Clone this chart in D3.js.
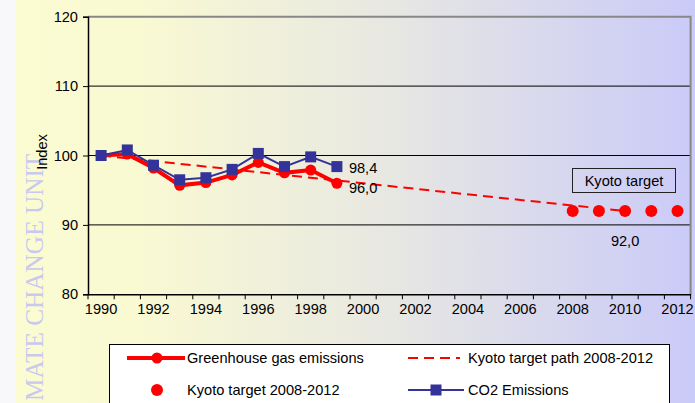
<!DOCTYPE html>
<html><head><meta charset="utf-8">
<script src="https://cdn.jsdelivr.net/npm/d3@7"></script>
<style>body{margin:0;padding:0;overflow:hidden}svg{display:block;font-family:Arial,"Liberation Sans",sans-serif}</style>
</head><body>
<script>
const years = d3.range(1990, 2013).map(String);
const ghgYears = ["1990","1991","1992","1993","1994","1995","1996","1997","1998","1999"];
const ghgValues = [100, 100.2, 98.2, 95.7, 96.1, 97.2, 99.0, 97.5, 97.9, 96.0];
const co2Values = [100, 100.8, 98.6, 96.5, 96.8, 98.0, 100.3, 98.4, 99.8, 98.4];
const pathYears = ["1990", "2010"];
const pathValues = [100, 92];
const targetYears = ["2008","2009","2010","2011","2012"];
const targetValues = [92, 92, 92, 92, 92];
const yTicks = [80, 90, 100, 110, 120];
const xLabels = ["1990","1992","1994","1996","1998","2000","2002","2004","2006","2008","2010","2012"];
const legendLabels = ["Greenhouse gas emissions","Kyoto target path 2008-2012","Kyoto target 2008-2012","CO2 Emissions"];

const W = 695, H = 403, FS = 14.6;
const svg = d3.select("body").append("svg").attr("width", W).attr("height", H);
const defs = svg.append("defs");
const g1 = defs.append("linearGradient").attr("id","bg").attr("x1","0").attr("x2","1").attr("y1","0").attr("y2","0");
g1.append("stop").attr("offset","0").attr("stop-color","#fcfcd2");
g1.append("stop").attr("offset","0.2").attr("stop-color","#f9f9d2");
g1.append("stop").attr("offset","0.55").attr("stop-color","#e8e8e2");
g1.append("stop").attr("offset","1").attr("stop-color","#cacaf8");
svg.append("rect").attr("width",W).attr("height",H).attr("fill","url(#bg)");
svg.append("rect").attr("width",15).attr("height",H).attr("fill","#f8f8fb");

// watermark
svg.append("text").attr("transform","translate(42.5,401) rotate(-90)")
  .attr("font-family","'Liberation Serif','DejaVu Serif',serif").attr("font-size",25.3)
  .attr("fill","#c9c9f0").attr("text-anchor","start").text("MATE CHANGE UNIT");

const x = d3.scaleBand().domain(years).range([88, 690.6]).padding(0);
const y = d3.scaleLinear().domain([80, 120]).range([294.3, 16.7]);
const cx = d => x(d) + x.bandwidth()/2;

// gridlines
svg.append("g").selectAll("line").data(yTicks.filter(v => v > 80 && v < 120)).join("line")
  .attr("x1", 88).attr("x2", 690.6).attr("y1", d => y(d)).attr("y2", d => y(d))
  .attr("stroke","#000").attr("stroke-width",1);
// plot border top/right
svg.append("path").attr("d", `M88,${y(120)}H690.6V${y(80)}`).attr("fill","none").attr("stroke","#888").attr("stroke-width",2);

// y axis
const ya = svg.append("g").attr("transform","translate(88,0)")
  .call(d3.axisLeft(y).tickValues(yTicks).tickSize(5).tickPadding(5).tickFormat(d3.format("d")));
ya.select(".domain").attr("stroke","#000").attr("stroke-width",1.5);
ya.selectAll("text").attr("font-size",FS).attr("fill","#000").attr("font-family","Arial,'Liberation Sans',sans-serif");
ya.selectAll(".tick line").attr("stroke","#000");

// x axis
const xa = svg.append("g").attr("transform",`translate(0,${y(80)})`)
  .call(d3.axisBottom(x).tickValues(xLabels).tickSize(0).tickPadding(9));
xa.select(".domain").attr("stroke","#000").attr("stroke-width",1.5);
xa.selectAll("text").attr("font-size",FS).attr("fill","#000").attr("font-family","Arial,'Liberation Sans',sans-serif");
svg.append("g").selectAll("line").data(years.concat(["end"])).join("line")
  .attr("x1", d => d === "end" ? x.range()[1] : x(d)).attr("x2", d => d === "end" ? x.range()[1] : x(d))
  .attr("y1", y(80)).attr("y2", y(80) + 5).attr("stroke","#000");

// axis title
svg.append("text").attr("transform",`translate(47,152) rotate(-90)`).attr("text-anchor","middle")
  .attr("font-size",FS).attr("fill","#000").text("Index");

// Kyoto path
const line = d3.line().x(d => cx(d[0])).y(d => y(d[1]));
svg.append("path").datum(pathYears.map((d,i)=>[d,pathValues[i]])).attr("d", line)
  .attr("fill","none").attr("stroke","#ff0000").attr("stroke-width",2).attr("stroke-dasharray","10,6");

// GHG
const ghg = ghgYears.map((d,i)=>[d,ghgValues[i]]);
svg.append("path").datum(ghg).attr("d", line).attr("fill","none").attr("stroke","#ff0000").attr("stroke-width",4);
svg.append("g").selectAll("circle").data(ghg).join("circle")
  .attr("cx", d => cx(d[0])).attr("cy", d => y(d[1])).attr("r",5.5).attr("fill","#ff0000");

// CO2
const co2 = ghgYears.map((d,i)=>[d,co2Values[i]]);
svg.append("path").datum(co2).attr("d", line).attr("fill","none").attr("stroke","#333399").attr("stroke-width",2);
svg.append("g").selectAll("rect").data(co2).join("rect")
  .attr("x", d => cx(d[0]) - 5.5).attr("y", d => y(d[1]) - 5.5).attr("width",11).attr("height",11).attr("fill","#333399");

// target dots
svg.append("g").selectAll("circle").data(targetYears.map((d,i)=>[d,targetValues[i]])).join("circle")
  .attr("cx", d => cx(d[0])).attr("cy", d => y(d[1])).attr("r",6).attr("fill","#ff0000");

// data labels
const fmt = v => d3.format(".1f")(v).replace(".", ",");
svg.append("text").attr("x", cx("1999") + 12).attr("y", y(co2Values[9]) + 6).attr("font-size",FS).text(fmt(co2Values[9]));
svg.append("text").attr("x", cx("1999") + 12).attr("y", y(ghgValues[9]) + 10).attr("font-size",FS).text(fmt(ghgValues[9]));
svg.append("text").attr("x", cx("2010")).attr("y", y(92) + 35).attr("font-size",FS).attr("text-anchor","middle").text(fmt(targetValues[2]));

// Kyoto target box
svg.append("rect").attr("x",572.5).attr("y",168.5).attr("width",103).attr("height",24).attr("fill","none").attr("stroke","#222").attr("stroke-width",1);
svg.append("text").attr("x",624).attr("y",186).attr("text-anchor","middle").attr("font-size",FS).text("Kyoto target");

// legend
const lg = svg.append("g");
lg.append("rect").attr("x",109.5).attr("y",344.5).attr("width",560).attr("height",70).attr("fill","#fff").attr("stroke","#000");
lg.append("line").attr("x1",127).attr("x2",185).attr("y1",358).attr("y2",358).attr("stroke","#ff0000").attr("stroke-width",4);
lg.append("circle").attr("cx",157).attr("cy",358).attr("r",5.5).attr("fill","#ff0000");
lg.append("text").attr("x",187).attr("y",363).attr("font-size",FS).text(legendLabels[0]);
lg.append("line").attr("x1",408).attr("x2",460).attr("y1",358).attr("y2",358).attr("stroke","#ff0000").attr("stroke-width",2).attr("stroke-dasharray","10,6");
lg.append("text").attr("x",468).attr("y",363).attr("font-size",FS).text(legendLabels[1]);
lg.append("circle").attr("cx",157).attr("cy",390).attr("r",6).attr("fill","#ff0000");
lg.append("text").attr("x",187).attr("y",395).attr("font-size",FS).text(legendLabels[2]);
lg.append("line").attr("x1",408).attr("x2",464).attr("y1",390).attr("y2",390).attr("stroke","#333399").attr("stroke-width",2);
lg.append("rect").attr("x",430.5).attr("y",384.5).attr("width",11).attr("height",11).attr("fill","#333399");
lg.append("text").attr("x",468).attr("y",395).attr("font-size",FS).text(legendLabels[3]);
</script>
</body></html>
